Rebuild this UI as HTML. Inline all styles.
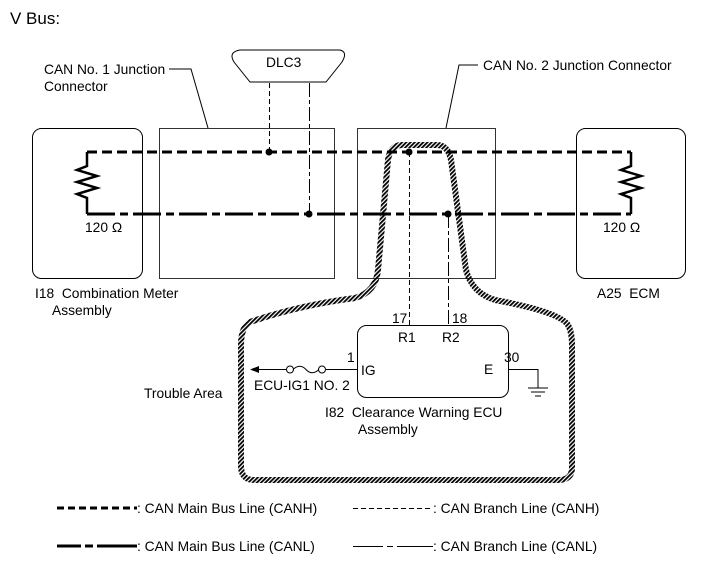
<!DOCTYPE html>
<html><head><style>body{margin:0;background:#fff}svg{display:block}text{white-space:pre}</style></head><body>
<svg width="713" height="581" viewBox="0 0 713 581" xmlns="http://www.w3.org/2000/svg" font-family="Liberation Sans, sans-serif" font-size="13.8" fill="#000" xml:space="preserve">
<defs>
<pattern id="h" width="3" height="3" patternUnits="userSpaceOnUse" patternTransform="rotate(45)">
<rect width="3" height="3" fill="#fff"/><rect width="1.8" height="3" fill="#000"/></pattern>
</defs>
<text x="10" y="24" font-size="17">V Bus:</text>
<path d="M250,322 Q300,305 355,298 Q376,292 378,270 L388,160 Q390,145 402,145 L437,145 Q448,145 451,160 L466,270 Q472,293 495,300 Q560,312 568,325 Q572,332 572,345 L572,468 Q572,480 558,480 L254,480 Q241,480 241,466 L241,345 Q241,327 250,322 Z" fill="none" stroke="url(#h)" stroke-width="6"/>
<rect x="32.5" y="128.5" width="110" height="150" rx="9" fill="none" stroke="#000"/>
<rect x="159.5" y="128.5" width="175" height="150" fill="none" stroke="#000" stroke-width="0.8"/>
<rect x="357.5" y="128.5" width="138" height="150" fill="none" stroke="#000" stroke-width="0.8"/>
<rect x="576.5" y="128.5" width="109" height="150" rx="9" fill="none" stroke="#000"/>
<path d="M240,50 L340,50 Q348,52 342,62 L326,82 L250,82 L234,62 Q228,52 240,50 Z" fill="#fff" stroke="#000"/>
<text x="266" y="67">DLC3</text>
<text x="44" y="74">CAN No. 1 Junction</text><text x="44" y="91">Connector</text>
<path d="M169,69 H191 L208,128" fill="none" stroke="#000"/>
<text x="483" y="70">CAN No. 2 Junction Connector</text>
<path d="M478,65 H459 L446,128" fill="none" stroke="#000"/>
<path d="M87,152 H631" stroke="#000" stroke-width="3" stroke-dasharray="10,5" fill="none"/>
<path d="M87,214 H631" stroke="#000" stroke-width="3" stroke-dasharray="28,5,8,5" fill="none"/>
<path d="M87,152 V166 L77,170 L97,176 L77,182 L97,188 L77,194 L87,198 V214" fill="none" stroke="#000" stroke-width="2.5"/>
<path d="M631,152 V166 L621,170 L641,176 L621,182 L641,188 L621,194 L631,198 V214" fill="none" stroke="#000" stroke-width="2.5"/>
<text x="85" y="232">120 Ω</text><text x="603" y="232">120 Ω</text>
<path d="M269.5,83 V152" stroke="#000" stroke-dasharray="5,3" fill="none"/>
<path d="M309.5,83 V214" stroke="#000" stroke-dasharray="14,3,4,3" fill="none"/>
<path d="M409.5,152 V325" stroke="#000" stroke-dasharray="5,3" fill="none"/>
<path d="M448.5,214 V325" stroke="#000" stroke-dasharray="14,3,4,3" fill="none"/>
<circle cx="269" cy="152" r="3.5"/><circle cx="309" cy="214" r="3.5"/>
<circle cx="409" cy="152" r="3.5"/><circle cx="448" cy="214" r="3.5"/>
<text x="35" y="298">I18  Combination Meter</text><text x="52" y="315">Assembly</text>
<text x="597" y="298">A25  ECM</text>
<rect x="357.5" y="325.5" width="151" height="72" rx="9" fill="none" stroke="#000"/>
<text x="392" y="323">17</text><text x="452" y="323">18</text>
<text x="398" y="342">R1</text><text x="442" y="342">R2</text>
<text x="347" y="362">1</text><text x="361" y="375">IG</text>
<text x="484" y="374">E</text><text x="504" y="362">30</text>
<path d="M508,369.5 H538 V388 M528,388 H548 M531,392 H545 M535,396 H541" fill="none" stroke="#000"/>
<path d="M357,369.5 H326 M286,369.5 H258" stroke="#000" fill="none"/>
<path d="M250,369.5 L259,366 L259,373 Z"/>
<circle cx="290" cy="369.5" r="3.5" fill="#fff" stroke="#000"/><circle cx="322" cy="369.5" r="3.5" fill="#fff" stroke="#000"/>
<path d="M293,369.5 Q300,363 306,369.5 Q312,376 319,369.5" fill="none" stroke="#000"/>
<text x="254" y="390">ECU-IG1 NO. 2</text>
<text x="144" y="398">Trouble Area</text>
<text x="325" y="417">I82  Clearance Warning ECU</text><text x="358" y="434">Assembly</text>
<path d="M57,508 H137" stroke="#000" stroke-width="3" stroke-dasharray="7,4" fill="none"/>
<text x="137" y="513">: CAN Main Bus Line (CANH)</text>
<path d="M353,508.5 H433" stroke="#000" stroke-dasharray="5,3" fill="none"/>
<text x="433" y="513">: CAN Branch Line (CANH)</text>
<path d="M57,546 H137" stroke="#000" stroke-width="3" stroke-dasharray="24,4,8,4,40" fill="none"/>
<text x="137" y="551">: CAN Main Bus Line (CANL)</text>
<path d="M353,546.5 H433" stroke="#000" stroke-dasharray="30,4,6,4,40" fill="none"/>
<text x="433" y="551">: CAN Branch Line (CANL)</text>
</svg>
</body></html>
